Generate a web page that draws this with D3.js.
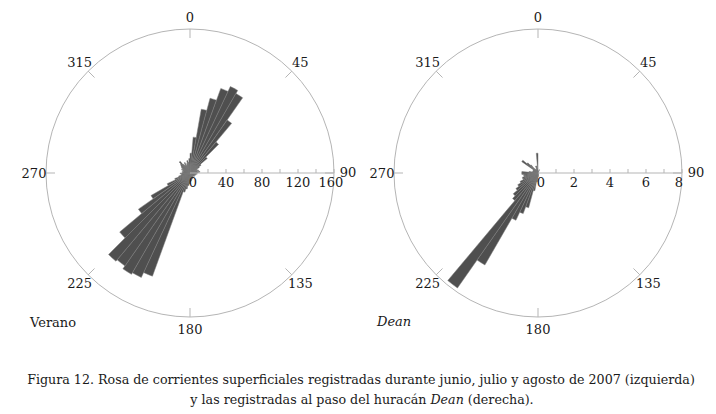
<!DOCTYPE html>
<html><head><meta charset="utf-8">
<script src="https://cdn.jsdelivr.net/npm/d3@7"></script>
<style>body{margin:0;background:#fff}svg{display:block}</style>
</head><body>
<svg id="c" width="716" height="414"></svg>
<script>
// Bin start angles (degrees, 5° bins)
const binAngles = [0,5,10,15,20,25,30,35,40,45,50,55,60,65,70,75,80,85,90,95,100,105,110,115,120,125,130,135,140,145,150,155,160,165,170,175,180,185,190,195,200,205,210,215,220,225,230,235,240,245,250,255,260,265,270,275,280,285,290,295,300,305,310,315,320,325,330,335,340,345,350,355];
// Verano (summer) counts
const veranoValues = [22,40,72,86,100,106,102,72,45,25,15,12,9,8,10,8,11,9,7,8,6,7,5,6,5,6,4,5,6,5,6,7,6,8,9,10,12,14,18,22,122,128,130,126,128,102,70,50,28,18,13,10,9,11,8,9,7,8,10,9,11,12,14,17,12,10,13,9,11,14,12,16];
// Dean hurricane counts
const deanValues = [0,0,0,0,0.2,0,0,0,0,0,0,0,0,0,0,0,0,0,0,0,0,0,0,0,0,0,0,0,0,0,0,0,0,0,0.2,0,0.3,0.5,1.0,2.0,2.4,2.9,5.9,7.8,2.0,1.8,1.5,1.3,1.1,0.9,0.9,0.8,0.8,0.9,0.9,0.5,0.3,0.3,0.3,0.3,0.3,1.1,0.8,0.6,0.3,0.2,0.2,0.2,0.4,0.4,0.2,1.1];
const binWidth = 5;
const directionTicks = [0,45,90,135,180,225,270,315];
const veranoTicks = [0,40,80,120,160], veranoMinor = [20,60,100,140];
const deanTicks = [0,2,4,6,8], deanMinor = [1,3,5,7];

const FONT = "DejaVu Serif";
const svg = d3.select("#c").attr("font-family", FONT);
const R = 144;
const FS = 13;

function rose(cx, cy, values, maxV, ticks, minor){
  const g = svg.append("g").attr("transform", `translate(${cx},${cy})`);
  const r = d3.scaleLinear().domain([0, maxV]).range([0, R]);
  g.append("circle").attr("r", R).attr("fill","none").attr("stroke","#b5b5b5").attr("stroke-width",1);
  directionTicks.forEach(a => {
    const t = a*Math.PI/180, s = Math.sin(t), c = -Math.cos(t);
    g.append("line").attr("x1", s*R).attr("y1", c*R).attr("x2", s*(R-9)).attr("y2", c*(R-9))
      .attr("stroke","#b5b5b5").attr("stroke-width",1);
    const off = a === 90 ? 14 : 12;
    g.append("text").attr("x", s*(R+off)).attr("y", c*(R+12) + (a===90?-1:0)).attr("dy","0.35em")
      .attr("text-anchor","middle").attr("font-size",FS).attr("fill","#1a1a1a").text(a);
  });
  const arc = d3.arc().innerRadius(0);
  g.selectAll("path.bar").data(binAngles.map((a,i)=>({a, v: values[i]})).filter(d=>d.v>0))
    .join("path").attr("class","bar")
    .attr("d", d => arc({outerRadius: r(d.v), startAngle: d.a*Math.PI/180, endAngle: (d.a+binWidth)*Math.PI/180}))
    .attr("fill","#4f4f4f").attr("stroke","#7d7d7d").attr("stroke-width",0.5);
  g.append("line").attr("x1",0).attr("y1",0).attr("x2",R).attr("y2",0).attr("stroke","#b5b5b5").attr("stroke-width",1);
  ticks.concat(minor).forEach(v => {
    if (v === 0) return;
    g.append("line").attr("x1", r(v)).attr("x2", r(v)).attr("y1", 0).attr("y2", -4)
      .attr("stroke","#b5b5b5").attr("stroke-width",1);
  });
  ticks.forEach(v => {
    g.append("text").attr("x", r(v) + (v===0?3:(v===ticks[ticks.length-1]?-3:0))).attr("y", 14).attr("text-anchor","middle")
      .attr("font-size",FS).attr("fill","#1a1a1a").text(v);
  });
}

rose(190, 173, veranoValues, 160, veranoTicks, veranoMinor);
rose(538, 173, deanValues, 8, deanTicks, deanMinor);

svg.append("text").attr("x",30).attr("y",327).attr("font-size",FS).attr("fill","#1a1a1a").text("Verano");
svg.append("text").attr("x",377).attr("y",326).attr("font-size",FS).attr("font-style","italic").attr("fill","#1a1a1a").text("Dean");

function fit(sel, target){
  let fs = 14; sel.attr("font-size", fs);
  const w = sel.node().getComputedTextLength();
  sel.attr("font-size", fs*target/w);
}
const l1 = svg.append("text").attr("x",361).attr("y",384).attr("text-anchor","middle").attr("fill","#1a1a1a")
  .text("Figura 12. Rosa de corrientes superficiales registradas durante junio, julio y agosto de 2007 (izquierda)");
fit(l1, 668);
const l2 = svg.append("text").attr("x",362).attr("y",404).attr("text-anchor","middle").attr("fill","#1a1a1a");
l2.append("tspan").text("y las registradas al paso del huracán ");
l2.append("tspan").attr("font-style","italic").text("Dean");
l2.append("tspan").text(" (derecha).");
l2.attr("font-size", l1.attr("font-size"));
</script>
</body></html>
